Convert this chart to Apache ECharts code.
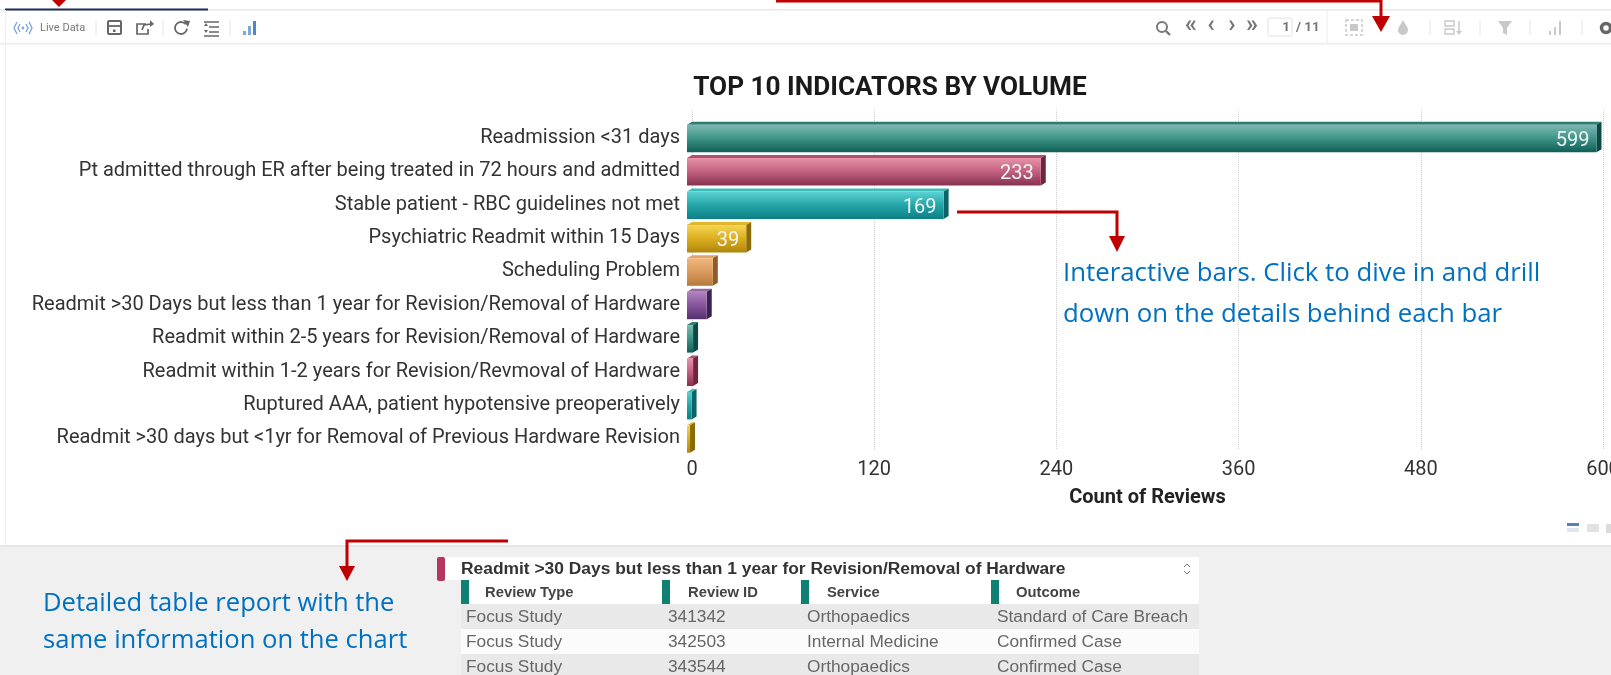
<!DOCTYPE html>
<html><head><meta charset="utf-8">
<script src="https://cdn.jsdelivr.net/npm/echarts@6/dist/echarts.min.js"></script>
<style>html,body{margin:0;padding:0;background:#fff;overflow:hidden}#c{width:1611px;height:675px}</style>
</head><body><div id="c"></div>
<script>
const categories = [
 'Readmission <31 days',
 'Pt admitted through ER after being treated in 72 hours and admitted',
 'Stable patient - RBC guidelines not met',
 'Psychiatric Readmit within 15 Days',
 'Scheduling Problem',
 'Readmit >30 Days but less than 1 year for Revision/Removal of Hardware',
 'Readmit within 2-5 years for Revision/Removal of Hardware',
 'Readmit within 1-2 years for Revision/Revmoval of Hardware',
 'Ruptured AAA, patient hypotensive preoperatively',
 'Readmit >30 days but <1yr for Removal of Previous Hardware Revision'
];
const reviewCounts = [599, 233, 169, 39, 17, 13, 4, 4, 3, 2];
const labelledMin = 39;
const chartTitle = 'TOP 10 INDICATORS BY VOLUME';
const axisName = 'Count of Reviews';
const tableTitle = 'Readmit >30 Days but less than 1 year for Revision/Removal of Hardware';
const tableHeaders = ['Review Type', 'Review ID', 'Service', 'Outcome'];
const tableRows = [
 ['Focus Study', '341342', 'Orthopaedics', 'Standard of Care Breach'],
 ['Focus Study', '342503', 'Internal Medicine', 'Confirmed Case'],
 ['Focus Study', '343544', 'Orthopaedics', 'Confirmed Case']
];
const noteBars = ['Interactive bars. Click to dive in and drill', 'down on the details behind each bar'];
const noteTable = ['Detailed table report with the', 'same information on the chart'];

const palette = [
 ['#7dbab2','#3f9389','#0f5f57','#2c7d74','#0b4a44'],
 ['#e693a9','#c25f7f','#85304f','#b0506f','#6e2540'],
 ['#5cd3d3','#24a5a8','#0c8084','#3cbcbc','#0a6568'],
 ['#f5d555','#dbae1e','#b0860c','#e0b62a','#8c6a08'],
 ['#f2b67e','#d99a5c','#b57a3c','#e0a468','#8e5c28'],
 ['#b084c0','#85559a','#56306c','#96689f','#3f2052']
];
const RED = '#c00000', BLUE = '#0070c0';

const chart = echarts.init(document.getElementById('c'), null, {renderer:'canvas'});

function bar3d(params, api){
  const v = api.value(0), i = api.value(1);
  const p = api.coord([v, i]), z = api.coord([0, i]);
  const c = p[1], dx = 5, dy = 3;
  const top = c - 13, bot = c + 14.5;
  const x0 = z[0] - dx, x1 = p[0] - dx;
  const col = palette[i % palette.length];
  const grad = new echarts.graphic.LinearGradient(0,0,0,1,[
    {offset:0,color:col[0]},{offset:.5,color:col[1]},{offset:1,color:col[2]}]);
  const kids = [
    {type:'polygon',shape:{points:[[x0,top],[x0+dx,top-dy],[x1+dx,top-dy],[x1,top]]},style:{fill:col[3]}},
    {type:'polygon',shape:{points:[[x1,top],[x1+dx,top-dy],[x1+dx,bot-dy],[x1,bot]]},style:{fill:col[4]}},
    {type:'rect',shape:{x:x0,y:top,width:x1-x0,height:bot-top},style:{fill:grad}}
  ];
  if (v >= labelledMin) kids.push({type:'text',style:{x:x1-7,y:c+3,text:String(v),align:'right',verticalAlign:'middle',
    fill:'#eef5f5',font:'400 20px Roboto'}});
  return {type:'group',children:kids};
}

const g = [];
const rect=(x,y,w,h,fill,extra)=>g.push(Object.assign({type:'rect',shape:{x,y,width:w,height:h},style:{fill}},extra||{}));
const line=(x1,y1,x2,y2,stroke,lw)=>g.push({type:'line',shape:{x1,y1,x2,y2},style:{stroke,lineWidth:lw||1}});
const poly=(pts,stroke,lw)=>g.push({type:'polyline',shape:{points:pts},style:{stroke,lineWidth:lw||1.5,fill:null}});
const tri=(pts,fill)=>g.push({type:'polygon',shape:{points:pts},style:{fill}});
const txt=(x,y,text,font,fill,align)=>g.push({type:'text',style:{x,y,text,font,fill,align:align||'left',verticalAlign:'middle'}});

// toolbar frame
rect(0,9,1611,1.5,'#e8e8e8'); rect(5,8.5,203,2,'#1f2a55'); rect(0,43,1611,1.5,'#ececec'); rect(5,10,1,537,'#efefef');
// lower panel
rect(0,547,1611,128,'#f0f0f0'); rect(0,545,1611,2,'#e6e6e6');
// left toolbar
const DG='#666', LB='#7da7d6';
poly([[17,22],[14,28],[17,34]],LB,1.4); poly([[20,24],[18,28],[20,32]],LB,1.4);
poly([[29,22],[32,28],[29,34]],LB,1.4); poly([[26,24],[28,28],[26,32]],LB,1.4);
g.push({type:'circle',shape:{cx:23,cy:28,r:1.4},style:{fill:LB}});
txt(40,28,'Live Data','11px Roboto','#777');
[96,163,230].forEach(x=>line(x,20,x,36,'#e4e4e4'));
g.push({type:'rect',shape:{x:108,y:21,width:13,height:13,r:1},style:{fill:null,stroke:DG,lineWidth:2}});
line(108,26,121,26,DG,1.8); rect(113,29.5,2.5,2.5,DG);
poly([[146,24],[137,24],[137,34],[148,34],[148,29]],DG,1.7); poly([[142,30],[144,25],[151,24]],DG,1.7); tri([[150,20],[154,24],[150,27]],DG);
g.push({type:'arc',shape:{cx:181,cy:28,r:6,startAngle:0.1,endAngle:5.6,clockwise:true},style:{stroke:DG,lineWidth:1.8,fill:null}});
tri([[183,20],[190,21],[188,27]],DG);
[22,27,32,36].forEach((y,k)=>line(k==0||k==3?204:209,y,219,y,DG,1.5)); tri([[204,26],[208,26],[206,23]],DG); tri([[204,30],[208,30],[206,33]],DG);
rect(243,31,3,4,'#7da7d6'); rect(248,26,3,9,'#7da7d6'); rect(253,21,3,14,'#4f86c6');
// right toolbar
const MG='#777', PG='#c9c9c9';
g.push({type:'circle',shape:{cx:1162,cy:27,r:5},style:{fill:null,stroke:MG,lineWidth:2}}); line(1166,31,1170,35,MG,2.4);
txt(1191,26,'«','bold 24px Roboto',MG,'center'); txt(1211,26,'‹','bold 24px Roboto',MG,'center');
txt(1232,26,'›','bold 24px Roboto',MG,'center'); txt(1252,26,'»','bold 24px Roboto',MG,'center');
g.push({type:'rect',shape:{x:1268,y:18,width:24,height:18,r:2},style:{fill:'#fff',stroke:'#e2e2e2',lineWidth:1}});
txt(1290,28,'1','bold 13.5px Roboto','#777','right'); txt(1296,28,'/ 11','bold 13.5px Roboto','#777');
line(1327,10,1327,44,'#ececec');
g.push({type:'rect',shape:{x:1346,y:20,width:16,height:15},style:{fill:null,stroke:PG,lineWidth:1.5,lineDash:[3,2]}}); rect(1350,24,8,7,PG);
g.push({type:'circle',shape:{cx:1403,cy:30,r:5},style:{fill:PG}}); tri([[1403,20],[1398.5,28],[1407.5,28]],PG);
[1430,1480,1530,1582].forEach(x=>line(x,20,x,35,'#e6e6e6'));
g.push({type:'rect',shape:{x:1445,y:21,width:9,height:5},style:{fill:null,stroke:PG,lineWidth:1.4}});
g.push({type:'rect',shape:{x:1445,y:29,width:9,height:5},style:{fill:null,stroke:PG,lineWidth:1.4}});
line(1459,21,1459,33,PG,1.5); tri([[1456,31],[1462,31],[1459,35]],PG);
tri([[1498,21],[1512,21],[1507,28],[1507,35],[1503,33],[1503,28]],PG);
rect(1549,31,2,4,PG); rect(1554,27,2,8,PG); rect(1559,21,2,14,PG);
g.push({type:'circle',shape:{cx:1606,cy:28,r:4.5},style:{fill:null,stroke:'#666',lineWidth:3.5}});
// bottom-right view icons
rect(1567,523,12,3,'#5b7fb8'); rect(1567,528,12,4,'#dfe6ef'); rect(1587,524,12,8,'#e2e2e2'); rect(1606,524,5,9,'#dcdcdc');
// table
rect(437,557,8,24,'#b5365f',{shape:{x:437,y:557,width:8,height:24,r:2}});
rect(445,557,754,23,'#ffffff');
txt(461,569,tableTitle,'bold 17.4px "Liberation Sans"','#333');
poly([[1184,567],[1187,564],[1190,567]],'#777',1); poly([[1184,571],[1187,574],[1190,571]],'#777',1);
rect(461,580,738,24,'#ffffff');
const hdrBar=[461,662,801,991], hdrX=[485,688,827,1016], colX=[466,668,807,997];
tableHeaders.forEach((h,k)=>{ rect(hdrBar[k],580,8,24,'#0f8072'); txt(hdrX[k],593,h,'bold 14.8px "Liberation Sans"','#444'); });
const rowY=[604,629,654], rowH=[25,25,21];
tableRows.forEach((r,i)=>{
  rect(461,rowY[i],738,rowH[i],i%2?'#fbfbfb':'#e9e9e9');
  r.forEach((t,k)=>txt(colX[k],rowY[i]+13,t,'17.3px "Liberation Sans"','#666'));
});
// annotations
noteBars.forEach((t,i)=>txt(1063,274+i*41,t,'25.8px "Open Sans"',BLUE));
noteTable.forEach((t,i)=>txt(43,604+i*37,t,'25.6px "Open Sans"',BLUE));
// red connectors
poly([[776,1],[1381,1],[1381,18]],RED,3); tri([[1372,16],[1390,16],[1381,32]],RED);
tri([[52,0],[66,0],[59,7]],RED);
poly([[957,212],[1117,212],[1117,238]],RED,3); tri([[1109,236],[1125,236],[1117,252]],RED);
poly([[508,541],[347,541],[347,568]],RED,3); tri([[339,566],[355,566],[347,581]],RED);

const option = {
  animation:false,
  backgroundColor:'#ffffff',
  title:{text:chartTitle,left:885,top:70,textAlign:'center',textStyle:{fontFamily:'Roboto',fontWeight:'bold',fontSize:26.2,color:'#1a1a1a'}},
  grid:[
    {left:692,width:911,top:121,height:334,outerBoundsMode:'none'},
    {left:692,width:911,top:110,height:340,outerBoundsMode:'none'}
  ],
  xAxis:[
    {gridIndex:0,type:'value',min:0,max:600,interval:120,show:false},
    {gridIndex:1,type:'value',min:0,max:600,interval:120,
      axisLine:{show:false},axisTick:{show:false},
      splitLine:{show:true,lineStyle:{type:'dotted',color:'#cfcfcf',width:1}},
      axisLabel:{margin:10,fontFamily:'Roboto',fontSize:20,color:'#333',hideOverlap:false,showMaxLabel:true},
      name:axisName,nameLocation:'middle',nameGap:38,
      nameTextStyle:{fontFamily:'Roboto',fontWeight:'bold',fontSize:20,color:'#222'}}
  ],
  yAxis:[
    {gridIndex:0,type:'category',inverse:true,data:categories,
      axisLine:{show:false},axisTick:{show:false},splitLine:{show:false},
      axisLabel:{margin:12,fontFamily:'Roboto',fontSize:20,color:'#333'}},
    {gridIndex:1,type:'category',data:[],show:false}
  ],
  series:[{type:'custom',xAxisIndex:0,yAxisIndex:0,renderItem:bar3d,clip:false,
    encode:{x:0,y:1},data:reviewCounts.map((v,i)=>[v,i])}],
  graphic:{elements:g.map(e=>Object.assign({silent:true,z:e.z||10},e))}
};
chart.setOption(option);
</script></body></html>
